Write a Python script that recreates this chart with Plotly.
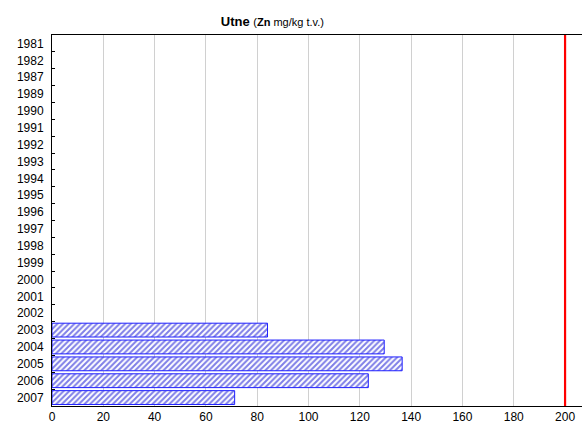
import plotly.graph_objects as go

years = ["1981", "1982", "1987", "1989", "1990", "1991", "1992", "1993", "1994",
         "1995", "1996", "1997", "1998", "1999", "2000", "2001", "2002", "2003",
         "2004", "2005", "2006", "2007"]
zn = [None] * 17 + [84, 129.5, 136.5, 123.3, 71.2]
limit_value = 200
x_ticks = [0, 20, 40, 60, 80, 100, 120, 140, 160, 180, 200]

fig = go.Figure()

fig.add_trace(go.Bar(
    y=years,
    x=zn,
    orientation="h",
    width=0.82,
    marker=dict(
        color="white",
        line=dict(color="#1f1fff", width=1),
        pattern=dict(shape="/", fgcolor="#0000d0", bgcolor="white", size=4, solidity=0.5),
    ),
    showlegend=False,
))

# limit line
fig.add_shape(type="line", x0=limit_value, x1=limit_value, y0=0, y1=1,
              xref="x", yref="paper", line=dict(color="red", width=2.2))

fig.update_layout(
    width=582, height=426,
    margin=dict(l=52, r=0, t=35, b=20),
    paper_bgcolor="white",
    plot_bgcolor="white",
    font=dict(family="Liberation Sans, Arial, sans-serif", size=12, color="black"),
    title=dict(
        text="<b>Utne</b> <span style='font-size:11px'>(<b>Zn</b> mg/kg t.v.)</span>",
        x=0.468, xanchor="center", y=0.95, yanchor="middle",
        font=dict(size=13),
    ),
    xaxis=dict(
        range=[0, 206.6],
        tickvals=x_ticks,
        showgrid=True, gridcolor="#d0d0d0", gridwidth=1,
        showline=True, linecolor="black", linewidth=1, mirror=True,
        ticks="", zeroline=False,
    ),
    yaxis=dict(
        categoryorder="array", categoryarray=years,
        autorange="reversed",
        showline=True, linecolor="black", linewidth=1,
        ticks="inside", tickson="boundaries", ticklen=3, tickcolor="black",
        ticklabelstandoff=5,
        showgrid=False,
    ),
    bargap=0.18,
)

fig.write_html("out.html", config={"displayModeBar": False},
               post_script="document.body.style.margin='0';")
